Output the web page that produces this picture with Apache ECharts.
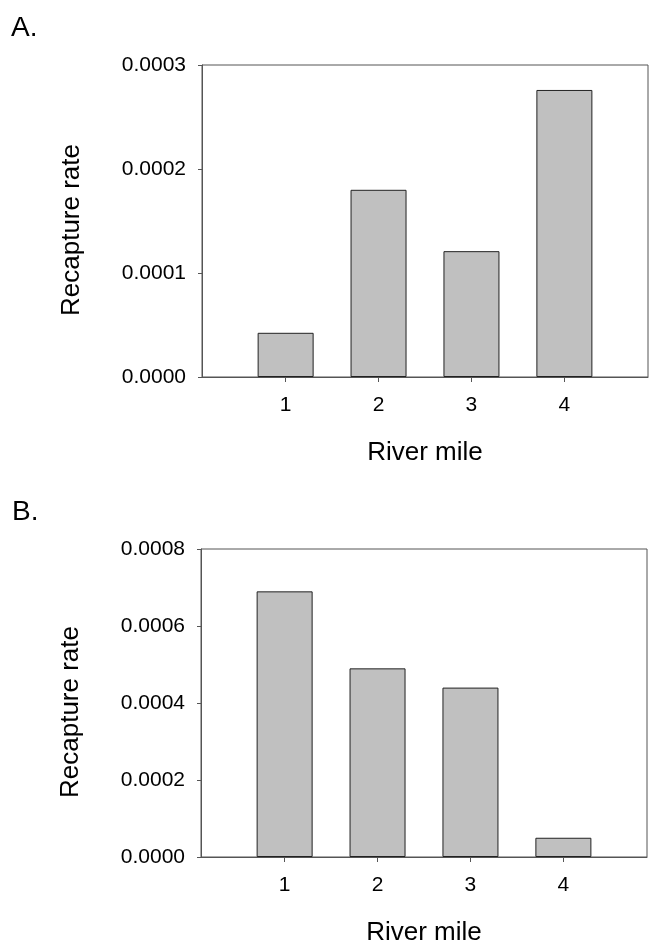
<!DOCTYPE html>
<html>
<head>
<meta charset="utf-8">
<script src="https://cdn.jsdelivr.net/npm/echarts@6/dist/echarts.min.js"></script>
<style>
  html, body { margin: 0; padding: 0; background: #fff; }
  #chart { width: 649px; height: 947px; }
</style>
</head>
<body>
<div id="chart"></div>
<script>
var riverMiles = [1, 2, 3, 4];
var rateA = [0.0000425, 0.00018, 0.000121, 0.000276];
var rateB = [0.00069, 0.00049, 0.00044, 0.00005];
var yTicksA = [0, 0.0001, 0.0002, 0.0003];
var yTicksB = [0, 0.0002, 0.0004, 0.0006, 0.0008];

var font = 'Liberation Sans, Arial, sans-serif';
var lineColor = '#555';

function pairs (vals) {
    return riverMiles.map(function (m, i) { return [m, vals[i]]; });
}

function xAxisFor (idx) {
    return {
        type: 'value',
        gridIndex: idx,
        min: 0.1,
        max: 4.9,
        name: 'River mile',
        nameLocation: 'middle',
        nameGap: 63,
        nameTextStyle: { fontFamily: font, fontSize: 26, color: '#000', verticalAlign: 'top' },
        axisLine: { lineStyle: { color: lineColor, width: 1 } },
        axisTick: { show: true, length: 5, customValues: riverMiles, lineStyle: { color: lineColor } },
        axisLabel: { customValues: riverMiles, margin: 18, fontFamily: font, fontSize: 21, color: '#000' },
        splitLine: { show: false }
    };
}

function yAxisFor (idx, ticks) {
    return {
        type: 'value',
        gridIndex: idx,
        min: 0,
        max: ticks[ticks.length - 1],
        interval: ticks[1] - ticks[0],
        name: 'Recapture rate',
        nameLocation: 'middle',
        nameGap: 117,
        // nudge the rotated title a little below the plot centre, as in the source
        nameTextStyle: { fontFamily: font, fontSize: 26, color: '#000', padding: [0, 18, 0, 0] },
        axisLine: { show: true, lineStyle: { color: lineColor, width: 1 } },
        axisTick: { show: true, length: 4, lineStyle: { color: lineColor } },
        axisLabel: {
            margin: 16, fontFamily: font, fontSize: 21, color: '#000',
            formatter: function (v) { return parseFloat(v).toFixed(4); }
        },
        splitLine: { show: false }
    };
}

function barSeries (idx, vals) {
    return {
        type: 'bar',
        xAxisIndex: idx,
        yAxisIndex: idx,
        barWidth: 56,
        itemStyle: { color: '#c0c0c0', borderColor: '#222', borderWidth: 1 },
        data: pairs(vals)
    };
}

var myChart = echarts.init(document.getElementById('chart'), null, { renderer: 'canvas' });
myChart.setOption({
    animation: false,
    backgroundColor: '#fff',
    title: [
        { text: 'A.', left: 6, top: 9, textStyle: { fontFamily: font, fontSize: 28, fontWeight: 'normal', color: '#000' } },
        { text: 'B.', left: 7, top: 493, textStyle: { fontFamily: font, fontSize: 28, fontWeight: 'normal', color: '#000' } }
    ],
    grid: [
        { left: 202, top: 65, width: 446, height: 312, show: true, borderColor: lineColor, borderWidth: 1, backgroundColor: 'transparent' },
        { left: 201, top: 549, width: 446, height: 313, show: true, borderColor: lineColor, borderWidth: 1, backgroundColor: 'transparent' }
    ],
    xAxis: [xAxisFor(0), xAxisFor(1)],
    yAxis: [yAxisFor(0, yTicksA), yAxisFor(1, yTicksB)],
    series: [barSeries(0, rateA), barSeries(1, rateB)]
});
</script>
</body>
</html>
